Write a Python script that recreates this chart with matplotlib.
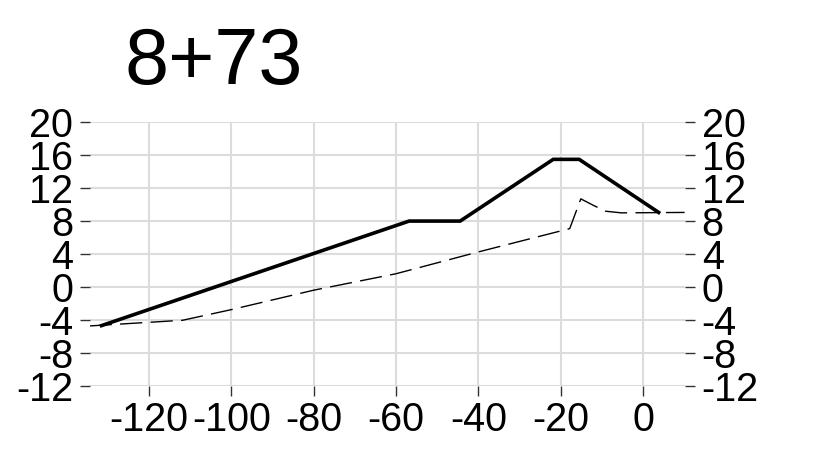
import matplotlib
matplotlib.use("Agg")
import matplotlib.pyplot as plt

plt.rcParams['font.family'] = ['Liberation Sans', 'DejaVu Sans']
plt.rcParams['axes.unicode_minus'] = False

title = "8+73"
solid_x = [-131.5, -56.8, -44.4, -21.8, -15.5, 3.8]
solid_y = [-4.7, 8.0, 8.0, 15.5, 15.5, 9.05]
dashed_x = [-134.4, -111.8, -99.9, -80, -60, -40, -17.8, -15.1, -12.0, -9.1, -5.3, 10.1]
dashed_y = [-4.74, -4.05, -2.75, -0.4, 1.6, 4.25, 7.08, 10.7, 9.9, 9.2, 9.0, 9.05]
x_ticks = [-120, -100, -80, -60, -40, -20, 0]
y_ticks = [-12, -8, -4, 0, 4, 8, 12, 16, 20]

fig = plt.figure(figsize=(8.18, 4.51), dpi=100)
ax = fig.add_axes([0.110, 0.1448, 0.8374 - 0.110, 0.7288 - 0.1448])

ax.plot(dashed_x, dashed_y, color='black', lw=1.0, dashes=(16, 6), solid_capstyle='butt')
ax.plot(solid_x, solid_y, color='black', lw=2.6, solid_joinstyle='miter')

ax.set_xlim(-134.3, 10.2)
ax.set_ylim(-12, 20)
ax.set_xticks(x_ticks)
ax.set_yticks(y_ticks)
ax.set_xticklabels([str(v) for v in x_ticks])
ax.set_yticklabels([str(v) for v in y_ticks])
for s in ax.spines.values():
    s.set_visible(False)
ax.grid(True, color='#dcdcdc', lw=1.5)
ax.set_axisbelow(True)
ax.tick_params(axis='y', left=True, right=True, labelleft=True, labelright=True,
               length=7, width=1, color='#333333', labelsize=28.5, pad=5, direction='out')
ax.tick_params(axis='x', length=7, width=1, color='#333333', labelsize=28.5, pad=4, direction='out')

fig.text(0.152, 0.8137, title, fontsize=57, ha='left', va='baseline')

fig.savefig("out.png", dpi=100)
